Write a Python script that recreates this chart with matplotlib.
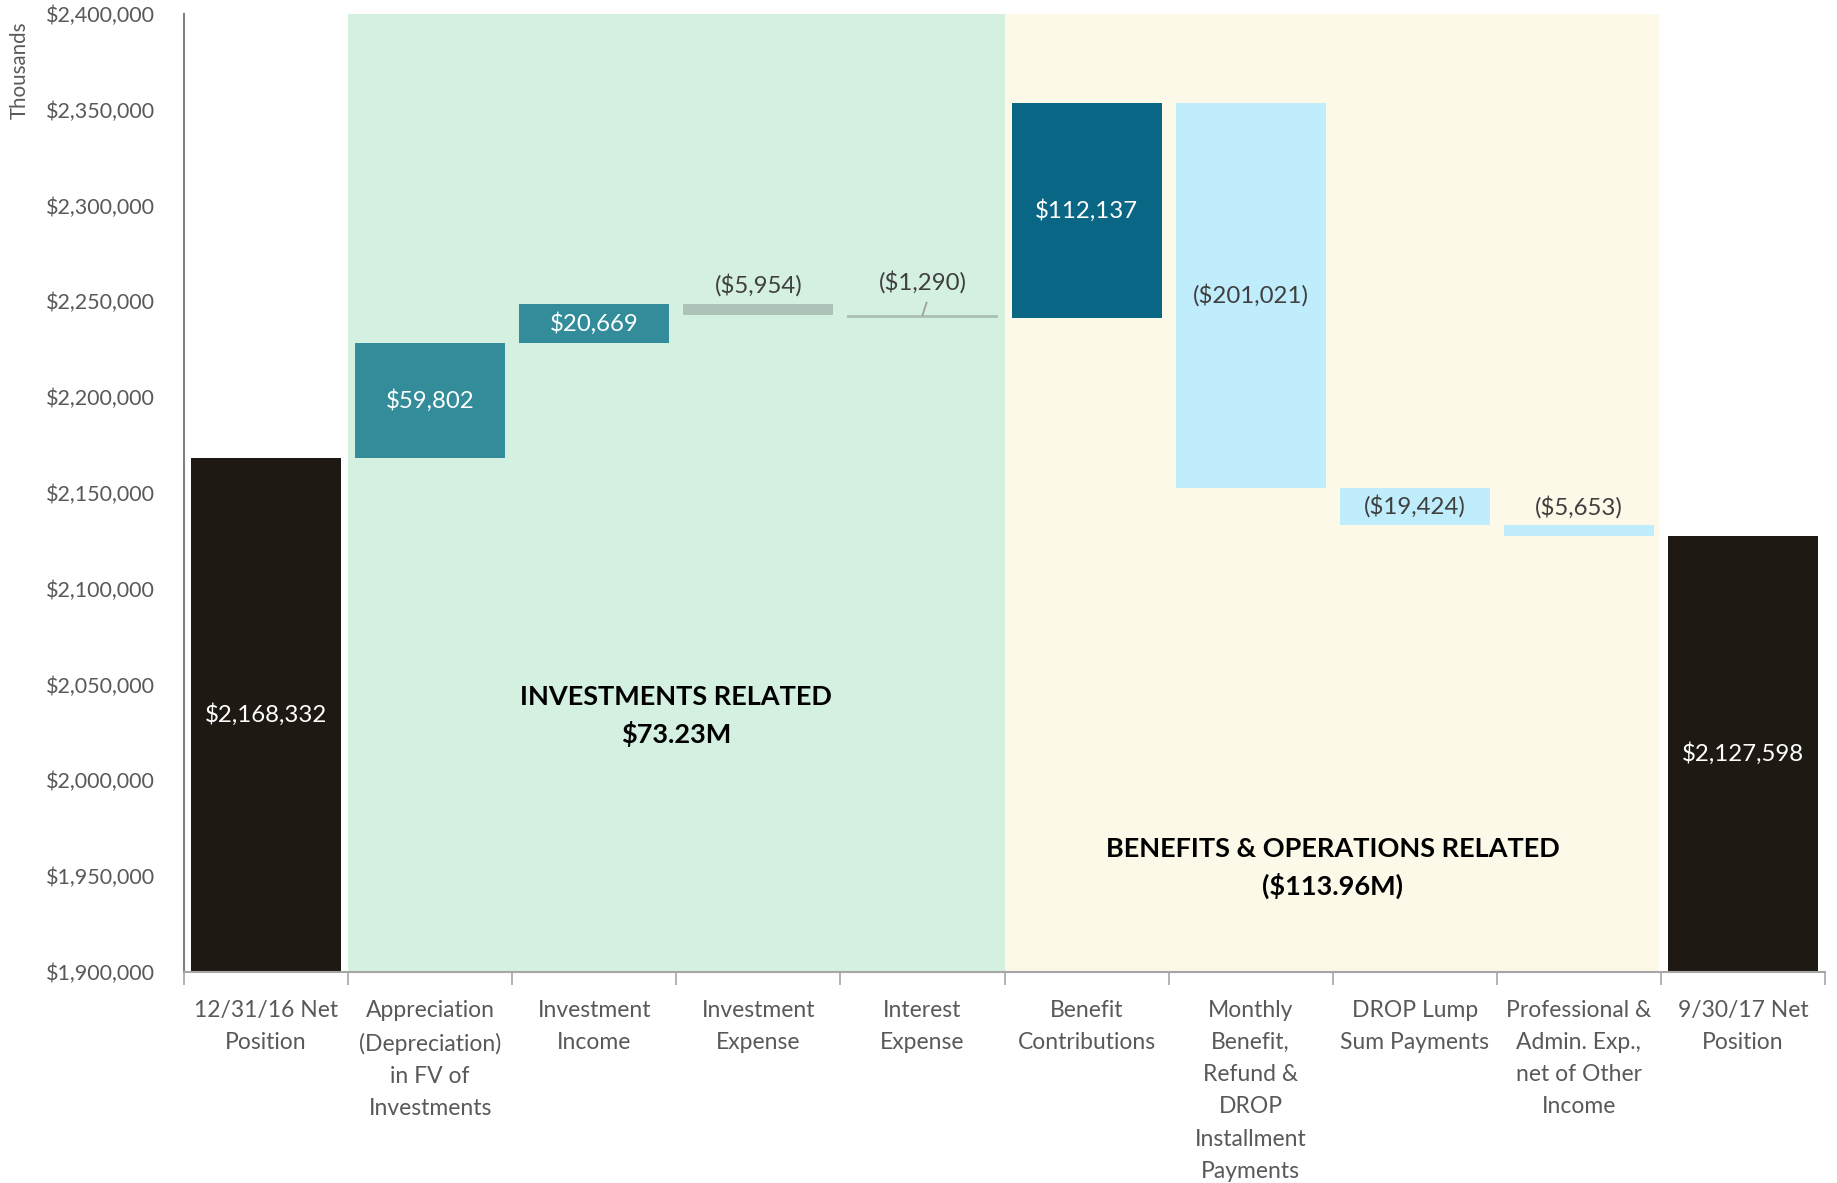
import matplotlib
matplotlib.use("Agg")
import matplotlib.pyplot as plt
from matplotlib.ticker import FuncFormatter, FixedLocator

plt.rcParams['font.family'] = ['Lato', 'DejaVu Sans']

# data (thousands of $)
categories = ["12/31/16 Net\nPosition",
              "Appreciation\n(Depreciation)\nin FV of\nInvestments",
              "Investment\nIncome",
              "Investment\nExpense",
              "Interest\nExpense",
              "Benefit\nContributions",
              "Monthly\nBenefit,\nRefund &\nDROP\nInstallment\nPayments",
              "DROP Lump\nSum Payments",
              "Professional &\nAdmin. Exp.,\nnet of Other\nIncome",
              "9/30/17 Net\nPosition"]
start_value = 2168332
changes = [59802, 20669, -5954, -1290, 112137, -201021, -19424, -5653]
end_value = 2127598
section_labels = ["INVESTMENTS RELATED\n$73.23M",
                  "BENEFITS & OPERATIONS RELATED\n($113.96M)"]

colors = ["#1E1A13", "#328C9A", "#328C9A", "#AEC3B7", "#AEC3B7",
          "#0A6685", "#C0EDFB", "#C0EDFB", "#C0EDFB", "#1E1A13"]

# waterfall geometry
bottoms, heights = [], []
ymin = 1900000
bottoms.append(ymin)
heights.append(start_value - ymin)
level = start_value
for c in changes:
    new = level + c
    bottoms.append(min(level, new))
    heights.append(abs(c))
    level = new
bottoms.append(ymin)
heights.append(end_value - ymin)

fig = plt.figure(figsize=(18.37, 11.83), dpi=100)
ax = fig.add_axes([0.1002, 0.1784, 0.8933, 0.8098])

x = list(range(len(categories)))
ax.axvspan(0.5, 4.5, color="#D4F0E1", zorder=0, lw=0)
ax.axvspan(4.5, 8.49, color="#FDF9E8", zorder=0, lw=0)

ax.bar(x, heights, bottom=bottoms, width=0.915, color=colors, zorder=2)

ax.set_xlim(-0.5, 9.5)
ax.set_ylim(1900000, 2400000)

# labels
lbl_fs = 17.3
ax.text(0, (ymin + start_value) / 2, "${:,}".format(start_value),
        ha="center", va="center", color="white", fontsize=lbl_fs, zorder=3)
ax.text(9, (ymin + end_value) / 2, "${:,}".format(end_value),
        ha="center", va="center", color="white", fontsize=lbl_fs, zorder=3)
for i, c in enumerate(changes):
    xi = i + 1
    b, h = bottoms[xi], heights[xi]
    txt = "${:,}".format(c) if c > 0 else "(${:,})".format(-c)
    if c > 0:
        ax.text(xi, b + h / 2, txt, ha="center", va="center", color="white",
                fontsize=lbl_fs, zorder=3)
    elif h > 15000:
        ax.text(xi, b + h / 2, txt, ha="center", va="center", color="#404040",
                fontsize=lbl_fs, zorder=3)
    else:
        off = 17000 if h < 2000 else 9500
        ax.text(xi, b + h + off, txt, ha="center", va="center",
                color="#404040", fontsize=lbl_fs, zorder=3)

# leader line for the small interest expense label
top4 = bottoms[4] + heights[4]
ax.plot([4.0, 4.025], [top4, top4 + 6500], color="#A0A0A0", lw=1.3, zorder=3)

ax.text(2.5, 2033500, section_labels[0], ha="center", va="center",
        fontsize=19.5, fontweight="bold", color="black", linespacing=1.55)
ax.text(6.5, 1954400, section_labels[1], ha="center", va="center",
        fontsize=19.5, fontweight="bold", color="black", linespacing=1.55)

# axes styling
ax.yaxis.set_major_locator(FixedLocator(range(1900000, 2400001, 50000)))
ax.yaxis.set_major_formatter(FuncFormatter(lambda v, p: "${:,.0f}".format(v)))
ax.tick_params(axis="y", length=0, labelsize=15.5, labelcolor="#595959", pad=21)

ax.set_xticks(x)
ax.set_xticklabels(categories, fontsize=16.5, color="#595959", linespacing=1.66)
ax.tick_params(axis="x", which="major", length=0, pad=20)
ax.set_xticks([i + 0.5 for i in range(-1, 10)], minor=True)
ax.tick_params(axis="x", which="minor", length=9, width=1.2, color="#A6A6A6")

for s in ["top", "right"]:
    ax.spines[s].set_visible(False)
ax.spines["left"].set_color("#808080")
ax.spines["left"].set_linewidth(1.5)
ax.spines["bottom"].set_color("#A6A6A6")
ax.spines["bottom"].set_linewidth(1.5)

fig.text(0.0109, 0.941, "Thousands", rotation=90, ha="center", va="center",
         fontsize=14.8, color="#595959")

fig.savefig("out.png", dpi=100)
